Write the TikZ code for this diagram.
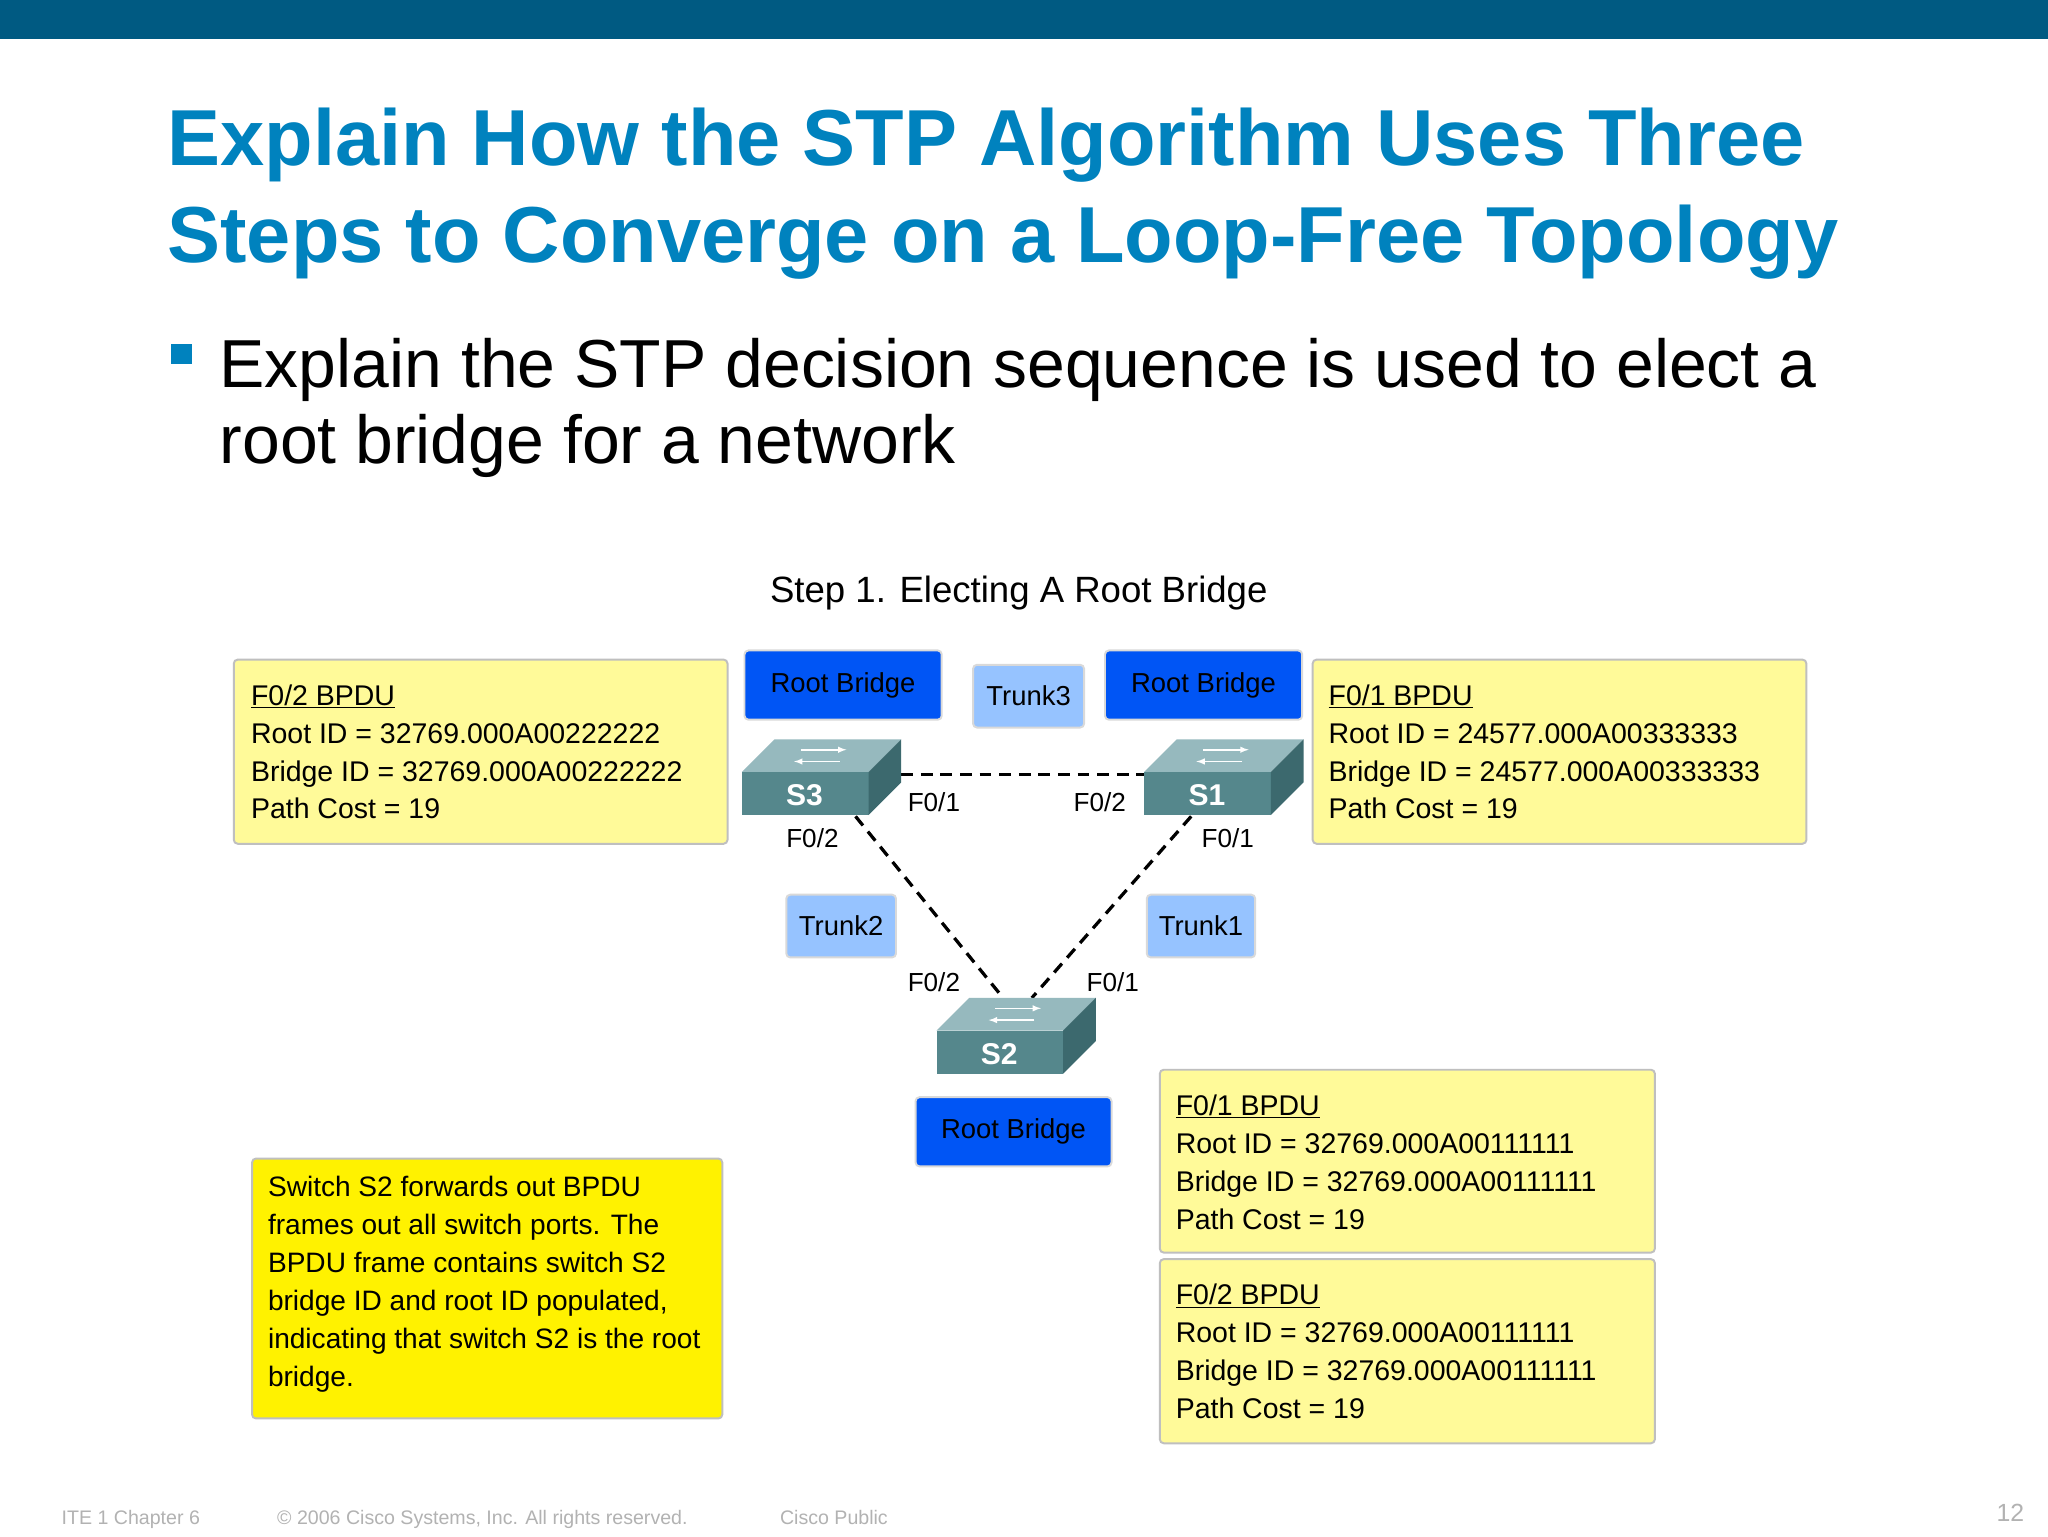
\documentclass[tikz,border=0pt]{standalone}
\usepackage{fontspec}
\setmainfont{Liberation Sans}
\begin{document}
\begin{tikzpicture}[x=1pt,y=-1pt,
  ybox/.style={draw=black!25,line width=1.5pt,fill=yellow!40,rounded corners=3pt},
  rb/.style={draw=black!15,line width=1.5pt,fill=rbblue,rounded corners=3pt},
  tr/.style={draw=black!15,line width=1.5pt,fill=trblue,rounded corners=3pt},
  lbl/.style={font=\fontsize{21.8}{26}\selectfont,anchor=base west,inner sep=0},
  port/.style={font=\fontsize{20}{24}\selectfont,inner sep=0},
  dl/.style={dashed,line width=2.5pt,dash pattern=on 9pt off 6pt}]
\definecolor{barc}{RGB}{0,90,130}
\definecolor{titc}{RGB}{0,130,190}
\definecolor{rbblue}{RGB}{0,85,245}
\definecolor{trblue}{RGB}{150,195,255}
\definecolor{swtop}{RGB}{150,185,190}
\definecolor{swfront}{RGB}{85,135,140}
\definecolor{swside}{RGB}{60,105,110}
\useasboundingbox (0,0) rectangle (1568,1176);
\fill[white] (0,0) rectangle (1568,1176);
\fill[barc] (0,0) rectangle (1568,30);
\node[anchor=base west,inner sep=0,text=titc,font=\bfseries\fontsize{60.8}{70}\selectfont] (t1) at (128,127) {Explain How the STP Algorithm Uses Three};
\node[anchor=base west,inner sep=0,text=titc,font=\bfseries\fontsize{60.8}{70}\selectfont] (t2) at (128,201) {Steps to Converge on a Loop-Free Topology};
\fill[titc] (131,263) rectangle (147,279);
\node[anchor=base west,inner sep=0,font=\fontsize{52}{60}\selectfont] (b1) at (168,297) {Explain the STP decision sequence is used to elect a};
\node[anchor=base west,inner sep=0,font=\fontsize{52}{60}\selectfont] (b2) at (168,355) {root bridge for a network};
\node[font=\fontsize{28}{32}\selectfont] (st) at (780,454) {Step 1. Electing A Root Bridge};
% yellow boxes
\draw[ybox] (179,505) rectangle (557,646);
\node[lbl] (l1) at (192,540) {\underline{F0/2 BPDU}};
\node[lbl] (l2) at (192,569) {Root ID = 32769.000A00222222};
\node[lbl] (l3) at (192,598) {Bridge ID = 32769.000A00222222};
\node[lbl] (l4) at (192,627) {Path Cost = 19};
\draw[ybox] (1005,505) rectangle (1383,646);
\node[lbl] (r1) at (1017,540) {\underline{F0/1 BPDU}};
\node[lbl] (r2) at (1017,569) {Root ID = 24577.000A00333333};
\node[lbl] (r3) at (1017,598) {Bridge ID = 24577.000A00333333};
\node[lbl] (r4) at (1017,627) {Path Cost = 19};
\draw[ybox] (888,819) rectangle (1267,959);
\node[lbl] (a1) at (900,854) {\underline{F0/1 BPDU}};
\node[lbl] (a2) at (900,883) {Root ID = 32769.000A00111111};
\node[lbl] (a3) at (900,912) {Bridge ID = 32769.000A00111111};
\node[lbl] (a4) at (900,941) {Path Cost = 19};
\draw[ybox] (888,964) rectangle (1267,1105);
\node[lbl] (c1) at (900,999) {\underline{F0/2 BPDU}};
\node[lbl] (c2) at (900,1028) {Root ID = 32769.000A00111111};
\node[lbl] (c3) at (900,1057) {Bridge ID = 32769.000A00111111};
\node[lbl] (c4) at (900,1086) {Path Cost = 19};
\draw[ybox,fill=yellow] (193,887) rectangle (553,1086);
\node[lbl,font=\fontsize{21.5}{29.2}\selectfont,anchor=north west,align=left] (sw) at (205,900) {Switch S2 forwards out BPDU\\frames out all switch ports. The\\BPDU frame contains switch S2\\bridge ID and root ID populated,\\indicating that switch S2 is the root\\bridge.};
% root bridge / trunk boxes
\draw[rb] (570,498) rectangle node (rb1) [font=\fontsize{21}{25}\selectfont] {Root Bridge} (721,551);
\draw[rb] (846,498) rectangle node (rb2) [font=\fontsize{21}{25}\selectfont] {Root Bridge} (997,551);
\draw[rb] (701,840) rectangle node (rb3) [font=\fontsize{21}{25}\selectfont] {Root Bridge} (851,893);
\draw[tr] (745,509) rectangle node (k3) [font=\fontsize{21}{25}\selectfont] {Trunk3} (830,557);
\draw[tr] (602,685) rectangle node (k2) [font=\fontsize{21}{25}\selectfont] {Trunk2} (686,733);
\draw[tr] (878,685) rectangle node (k1) [font=\fontsize{21}{25}\selectfont] {Trunk1} (961,733);
% links
\coordinate (s3r) at (690,593); \coordinate (s1l) at (876,593);
\coordinate (s3b) at (655,625); \coordinate (s1b) at (912,625);
\coordinate (s2l) at (768,764); \coordinate (s2r) at (790,764);
\draw[dl] (s3r) -- (s1l);
\draw[dl] (s3b) -- (s2l);
\draw[dl] (s1b) -- (s2r);
% switches
\foreach \nm/\x/\y in {S3/568/566,S1/876/566,S2/717/764}{
  \fill[swtop] (\x,\y+25) -- (\x+25,\y) -- (\x+122,\y) -- (\x+97,\y+25) -- cycle;
  \fill[swfront] (\x,\y+25) rectangle (\x+97,\y+58);
  \fill[swside] (\x+97,\y+25) -- (\x+122,\y) -- (\x+122,\y+33) -- (\x+97,\y+58) -- cycle;
  \draw[white,line width=1.2pt,-latex] (\x+45,\y+8) -- (\x+80,\y+8);
  \draw[white,line width=1.2pt,-latex] (\x+75,\y+17) -- (\x+40,\y+17);
  \node[text=white,font=\bfseries\fontsize{23}{27}\selectfont] (n\nm) at (\x+48,\y+43) {\nm};
}
% port labels
\node[port] (p1) at (715,614) {F0/1};
\node[port] (p2) at (842,614) {F0/2};
\node[port] (p3) at (622,642) {F0/2};
\node[port] (p4) at (940,642) {F0/1};
\node[port] (p5) at (715,752) {F0/2};
\node[port] (p6) at (852,752) {F0/1};
% footer
\begin{scope}[every node/.style={text=black!30,font=\fontsize{15}{18}\selectfont,anchor=base west,inner sep=0}]
\node (f1) at (47,1167) {ITE 1 Chapter 6};
\node (f2) at (212,1167) {\textcopyright{} 2006 Cisco Systems, Inc. All rights reserved.};
\node (f3) at (597,1167) {Cisco Public};
\node[anchor=base east,font=\fontsize{19}{22}\selectfont] (f4) at (1550,1165) {12};
\end{scope}
\end{tikzpicture}
\end{document}
